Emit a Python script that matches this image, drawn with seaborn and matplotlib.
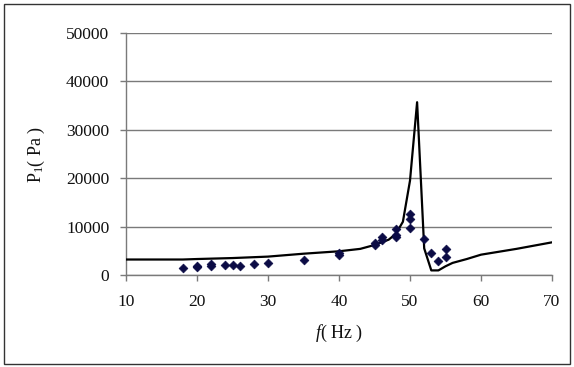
import matplotlib
matplotlib.use("Agg")
import matplotlib.pyplot as plt
import seaborn as sns
import pandas as pd
from matplotlib.patches import Rectangle

# Measured data (points)
meas_f = [18, 20, 20, 22, 22, 24, 25, 26, 28, 30, 35, 40, 40, 45, 45, 46, 46,
          48, 48, 48, 50, 50, 50, 52, 53, 54, 55, 55]
meas_p = [1400, 1550, 1800, 1850, 2350, 2050, 2050, 1950, 2200, 2400, 3100,
          4150, 4500, 6300, 6700, 7300, 7800, 7800, 8200, 9500, 9800, 11500,
          12600, 7450, 4500, 2900, 3650, 5400]

# Computed curve (line)
calc_f = [10, 18, 20, 25, 30, 35, 40, 43, 45, 47, 48, 49, 50, 51, 52, 53, 54,
          55, 56, 58, 60, 65, 70]
calc_p = [3200, 3200, 3300, 3500, 3800, 4400, 4900, 5400, 6200, 7300, 8500,
          11000, 19500, 35700, 5500, 950, 950, 1800, 2500, 3300, 4200, 5400, 6750]

y_ticks = [0, 10000, 20000, 30000, 40000, 50000]
x_ticks = [10, 20, 30, 40, 50, 60, 70]

sns.set_style("white")
plt.rcParams['font.family'] = ['Liberation Serif', 'DejaVu Serif']
plt.rcParams['mathtext.fontset'] = 'custom'
plt.rcParams['mathtext.rm'] = 'Liberation Serif'
plt.rcParams['mathtext.it'] = 'Liberation Serif:italic'

fig = plt.figure(figsize=(5.74, 3.67), dpi=100)
ax = fig.add_axes([126/574, 1-275/367, (552-126)/574, (275-33)/367])

df_line = pd.DataFrame({"f": calc_f, "p": calc_p})
df_pts = pd.DataFrame({"f": meas_f, "p": meas_p})

sns.lineplot(data=df_line, x="f", y="p", ax=ax, color="black", lw=1.6,
             sort=False, zorder=3)
sns.scatterplot(data=df_pts, x="f", y="p", ax=ax, marker="D", s=20,
                color="#0b0b45", edgecolor="#0b0b45", linewidth=0.5, zorder=4)

ax.set_xlim(10, 70)
ax.set_ylim(0, 50000)
ax.set_xticks(x_ticks)
ax.set_yticks(y_ticks)
ax.set_yticklabels([str(v) for v in y_ticks])
ax.yaxis.grid(True, color="#7a7a7a", lw=1.0)
ax.xaxis.grid(False)
ax.set_axisbelow(True)

for s in ["top", "right"]:
    ax.spines[s].set_visible(False)
for s in ["left", "bottom"]:
    ax.spines[s].set_color("#7a7a7a")
    ax.spines[s].set_linewidth(1.0)

ax.tick_params(axis="both", direction="out", length=4, width=1.0,
               color="#7a7a7a", labelsize=12.5, labelcolor="#111111")
ax.tick_params(axis="x", pad=10, bottom=True)
ax.tick_params(axis="y", pad=8, left=True)

ax.set_xlabel(r"$f$( Hz )", fontsize=13, labelpad=9, color="#111111")
ax.set_ylabel(r"P$_{1}$( Pa )", fontsize=13, labelpad=14, color="#111111")

fig.patches.append(Rectangle((4/574, 3/367), 566/574, 360/367,
                             transform=fig.transFigure, fill=False,
                             edgecolor="#333333", lw=1.0))

fig.savefig("out.png", dpi=100)
